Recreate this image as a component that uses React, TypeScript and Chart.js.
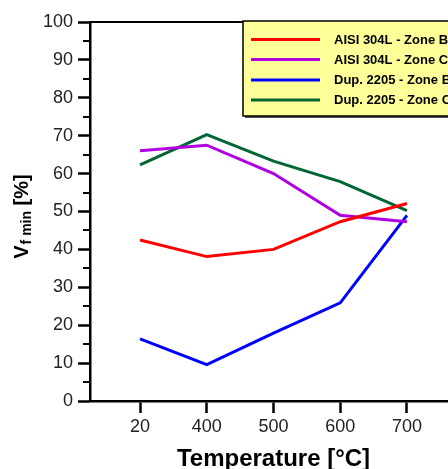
import React, { useEffect, useRef } from "react";
import { Chart, registerables } from "chart.js";

Chart.register(...registerables);

const categories = ["20", "400", "500", "600", "700"];
const seriesLabels = [
  "AISI 304L - Zone B",
  "AISI 304L - Zone C",
  "Dup. 2205 - Zone B",
  "Dup. 2205 - Zone C",
];
const aisiZoneB = [42.5, 38.1, 40.0, 47.3, 52.1];
const aisiZoneC = [66.0, 67.5, 60.0, 49.0, 47.3];
const dupZoneB = [16.4, 9.6, 17.9, 25.9, 49.0];
const dupZoneC = [62.3, 70.3, 63.3, 57.9, 50.2];
const seriesColors = ["#ff0000", "#b000e0", "#0000ff", "#006633"];
const yMinorTicks = [5, 15, 25, 35, 45, 55, 65, 75, 85, 95];

const FONT = "'Liberation Sans', Arial, sans-serif";

const decorPlugin = {
  id: "decor",
  afterDraw(chart: any) {
    const { ctx, chartArea } = chart;
    const { left, right, top, bottom } = chartArea;
    const yScale = chart.scales.y;
    ctx.save();
    // top frame line
    ctx.strokeStyle = "#000";
    ctx.lineWidth = 2;
    ctx.beginPath();
    ctx.moveTo(left - 1, top);
    ctx.lineTo(right, top);
    ctx.stroke();
    // minor y ticks
    ctx.lineWidth = 2;
    yMinorTicks.forEach((v) => {
      const py = Math.round(yScale.getPixelForValue(v));
      ctx.beginPath();
      ctx.moveTo(left - 7, py);
      ctx.lineTo(left, py);
      ctx.stroke();
    });

    // legend box
    const bx = 243;
    const by = 21;
    const bw = 240;
    const bh = 95;
    ctx.fillStyle = "#555";
    ctx.fillRect(bx + 2, by + 2, bw, bh);
    ctx.fillStyle = "#ffff99";
    ctx.fillRect(bx, by, bw, bh);
    ctx.strokeStyle = "#000";
    ctx.lineWidth = 1.5;
    ctx.strokeRect(bx, by, bw, bh);
    const rows = [39.5, 59.5, 80, 100];
    chart.data.datasets.forEach((ds: any, i: number) => {
      const ry = rows[i];
      ctx.strokeStyle = ds.borderColor;
      ctx.lineWidth = 3;
      ctx.beginPath();
      ctx.moveTo(251, ry);
      ctx.lineTo(320, ry);
      ctx.stroke();
      ctx.fillStyle = "#000";
      ctx.font = `bold 13px ${FONT}`;
      ctx.textAlign = "left";
      ctx.textBaseline = "middle";
      ctx.fillText(ds.label, 334, ry + 0.5);
    });

    // x title
    ctx.fillStyle = "#000";
    ctx.font = `bold 24px ${FONT}`;
    ctx.textAlign = "center";
    ctx.textBaseline = "alphabetic";
    ctx.fillText("Temperature [°C]", (left + right) / 2, 466);

    // y title (rotated), V with subscript "f min"
    const mainFont = `bold 20px ${FONT}`;
    const subFont = `bold 14px ${FONT}`;
    ctx.font = mainFont;
    const wV = ctx.measureText("V").width;
    const wRest = ctx.measureText(" [%]").width;
    ctx.font = subFont;
    const wSub = ctx.measureText("f min").width;
    const total = wV + 1 + wSub + wRest;
    const cy = (top + bottom) / 2 + 5;
    ctx.translate(28, cy + total / 2);
    ctx.rotate(-Math.PI / 2);
    ctx.textAlign = "left";
    ctx.textBaseline = "alphabetic";
    ctx.font = mainFont;
    ctx.fillText("V", 0, 0);
    ctx.font = subFont;
    ctx.fillText("f min", wV + 1, 3);
    ctx.font = mainFont;
    ctx.fillText(" [%]", wV + 1 + wSub, 0);
    ctx.restore();
  },
};

export default function App() {
  const ref = useRef<HTMLCanvasElement | null>(null);
  useEffect(() => {
    if (!ref.current) return;
    const seriesValues = [aisiZoneB, aisiZoneC, dupZoneB, dupZoneC];
    const chart = new Chart(ref.current, {
      type: "line",
      data: {
        datasets: seriesValues.map((vals, i) => ({
          label: seriesLabels[i],
          data: vals.map((v, j) => ({ x: j, y: v })),
          borderColor: seriesColors[i],
          backgroundColor: seriesColors[i],
          borderWidth: 3,
          pointRadius: 0,
          tension: 0,
          fill: false,
        })),
      },
      options: {
        animation: false,
        responsive: false,
        events: [],
        layout: { padding: { top: 22, right: 3, left: 0, bottom: 0 } },
        plugins: { legend: { display: false }, tooltip: { enabled: false } },
        scales: {
          x: {
            type: "linear",
            min: -0.75,
            max: 4.75,
            afterBuildTicks: (scale: any) => {
              scale.ticks = categories.map((_, i) => ({ value: i }));
            },
            afterFit: (scale: any) => {
              scale.height = 68;
            },
            ticks: {
              callback: (v: any) => categories[v] ?? "",
              font: { size: 18, family: FONT },
              color: "#222",
              padding: 3,
              maxRotation: 0,
              autoSkip: false,
            },
            grid: {
              drawOnChartArea: false,
              drawTicks: true,
              tickLength: 12,
              tickWidth: 2.5,
              tickColor: "#000",
            },
            border: { display: true, color: "#000", width: 2.5 },
          },
          y: {
            min: 0,
            max: 100,
            afterFit: (scale: any) => {
              scale.width = 90;
            },
            ticks: {
              stepSize: 10,
              font: { size: 18, family: FONT },
              color: "#222",
              padding: 5,
            },
            grid: {
              drawOnChartArea: false,
              drawTicks: true,
              tickLength: 12,
              tickWidth: 2.5,
              tickColor: "#000",
            },
            border: { display: true, color: "#000", width: 2.5 },
          },
        },
      },
      plugins: [decorPlugin],
    });
    return () => chart.destroy();
  }, []);
  return (
    <div
      style={{
        position: "absolute",
        left: 0,
        top: 0,
        width: 448,
        height: 469,
        overflow: "hidden",
        background: "#fff",
      }}
    >
      <canvas ref={ref} width={460} height={469} style={{ display: "block" }} />
    </div>
  );
}
